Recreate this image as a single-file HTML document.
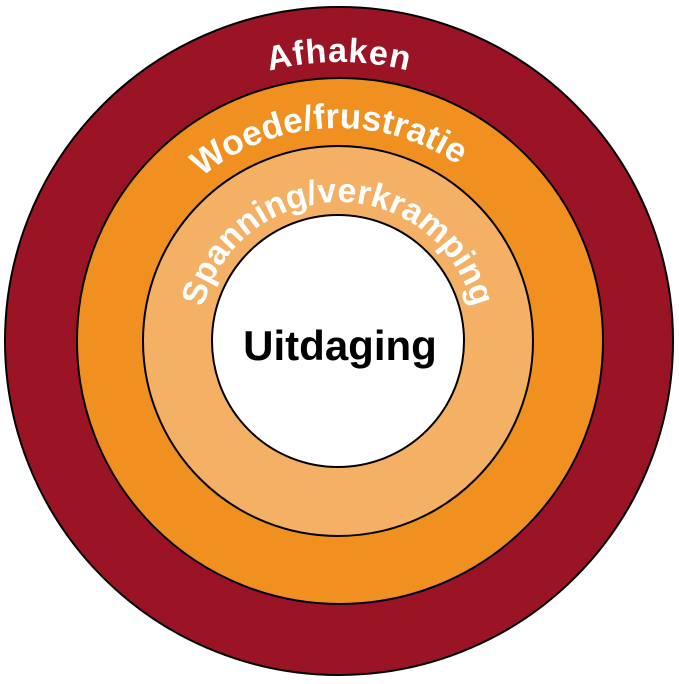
<!DOCTYPE html>
<html><head><style>body{margin:0;background:#fff}svg{display:block}</style></head><body>
<svg width="679" height="684" viewBox="0 0 679 684" xmlns="http://www.w3.org/2000/svg">
<defs>
<path id="p1" d="M 60 341 A 279 279 0 0 1 618 341"/>
<path id="p2" d="M 125 341 A 211 211 0 0 1 551 341"/>
<path id="p3" d="M 199 341 A 139 139 0 0 1 477 341"/>
</defs>
<circle cx="339" cy="341" r="334" fill="#9b1426" stroke="#000" stroke-width="2"/>
<circle cx="340" cy="341" r="263" fill="#ef9020" stroke="#000" stroke-width="2"/>
<circle cx="338" cy="341" r="195" fill="#f4b064" stroke="#000" stroke-width="2"/>
<circle cx="338" cy="341" r="126" fill="#fff" stroke="#000" stroke-width="2"/>
<g font-family="Liberation Sans, sans-serif" font-weight="bold" fill="#fff">
<text font-size="34"><textPath href="#p1" startOffset="50%" text-anchor="middle" letter-spacing="1">Afhaken</textPath></text>
<text font-size="35"><textPath href="#p2" startOffset="48.5%" text-anchor="middle">Woede/frustratie</textPath></text>
<text font-size="34"><textPath href="#p3" startOffset="50%" text-anchor="middle">Spanning/verkramping</textPath></text>
</g>
<text x="340" y="360" font-family="Liberation Sans, sans-serif" font-weight="bold" font-size="42" text-anchor="middle" fill="#000">Uitdaging</text>
</svg>
</body></html>
